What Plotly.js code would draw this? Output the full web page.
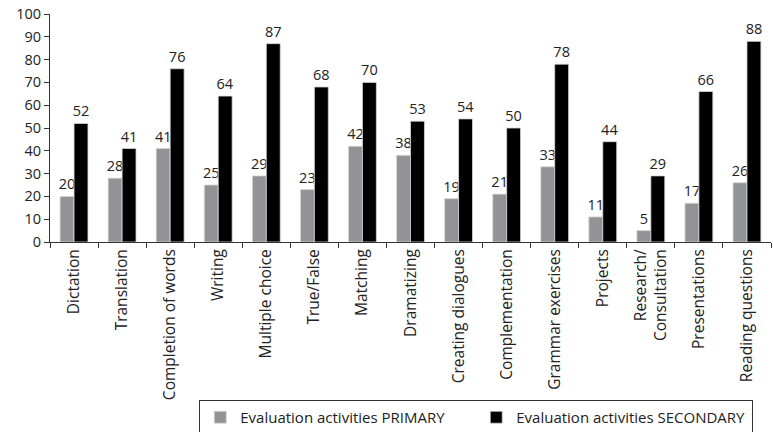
<!DOCTYPE html>
<html><head><meta charset="utf-8">
<script src="https://cdn.plot.ly/plotly-3.0.1.min.js"></script>
<style>html,body{margin:0;padding:0;background:#fff;}#chart{width:773px;height:432px;}</style>
</head><body><div id="chart"></div>
<script>
var categories = ["Dictation","Translation","Completion of words","Writing","Multiple choice","True/False","Matching","Dramatizing","Creating dialogues","Complementation","Grammar exercises","Projects","Research/<br>Consultation","Presentations","Reading questions"];
var primary = [20,28,41,25,29,23,42,38,19,21,33,11,5,17,26];
var secondary = [52,41,76,64,87,68,70,53,54,50,78,44,29,66,88];
var seriesNames = ["Evaluation activities PRIMARY","Evaluation activities SECONDARY"];
var yTicks = [0,10,20,30,40,50,60,70,80,90,100];

var font = "'Open Sans', 'Noto Sans', sans-serif";
function bar(vals, name, color){
  return {type:'bar', x:categories, y:vals, name:name,
    marker:{color:color, line:{color:'#d8d8d8', width:0.8}},
    text:vals.map(String), textposition:'outside', cliponaxis:false, constraintext:'none',
    textfont:{family:font, size:14.5, color:'#222'}};
}
var data = [bar(primary, seriesNames[0], '#929397'), bar(secondary, seriesNames[1], '#000000')];
var layout = {
  width:773, height:432,
  margin:{l:50, r:2, t:14, b:190, autoexpand:false},
  paper_bgcolor:'#fff', plot_bgcolor:'#fff',
  barmode:'group', bargap:0.42, bargroupgap:0,
  font:{family:font, size:14.5, color:'#222'},
  xaxis:{tickangle:-90, showline:true, linecolor:'#333', linewidth:1, automargin:false,
    ticks:'outside', tickson:'boundaries', ticklen:5, tickcolor:'#333',
    tickfont:{family:font, size:15.5, color:'#222'}, showgrid:false},
  yaxis:{range:[0,100], tickvals:yTicks, showline:true, linecolor:'#333', linewidth:1, automargin:false,
    ticks:'outside', ticklen:5, tickcolor:'#333', showgrid:false, zeroline:false,
    tickfont:{family:font, size:14.5, color:'#222'}},
  showlegend:true,
  legend:{orientation:'h', x:0.207, xanchor:'left', y:-0.693, yanchor:'top',
    bordercolor:'#333', borderwidth:1, font:{family:font, size:15, color:'#222'},
    traceorder:'normal', itemwidth:30, entrywidth:231, entrywidthmode:'pixels'}
};
Plotly.newPlot('chart', data, layout, {displayModeBar:false, staticPlot:true});
</script></body></html>
